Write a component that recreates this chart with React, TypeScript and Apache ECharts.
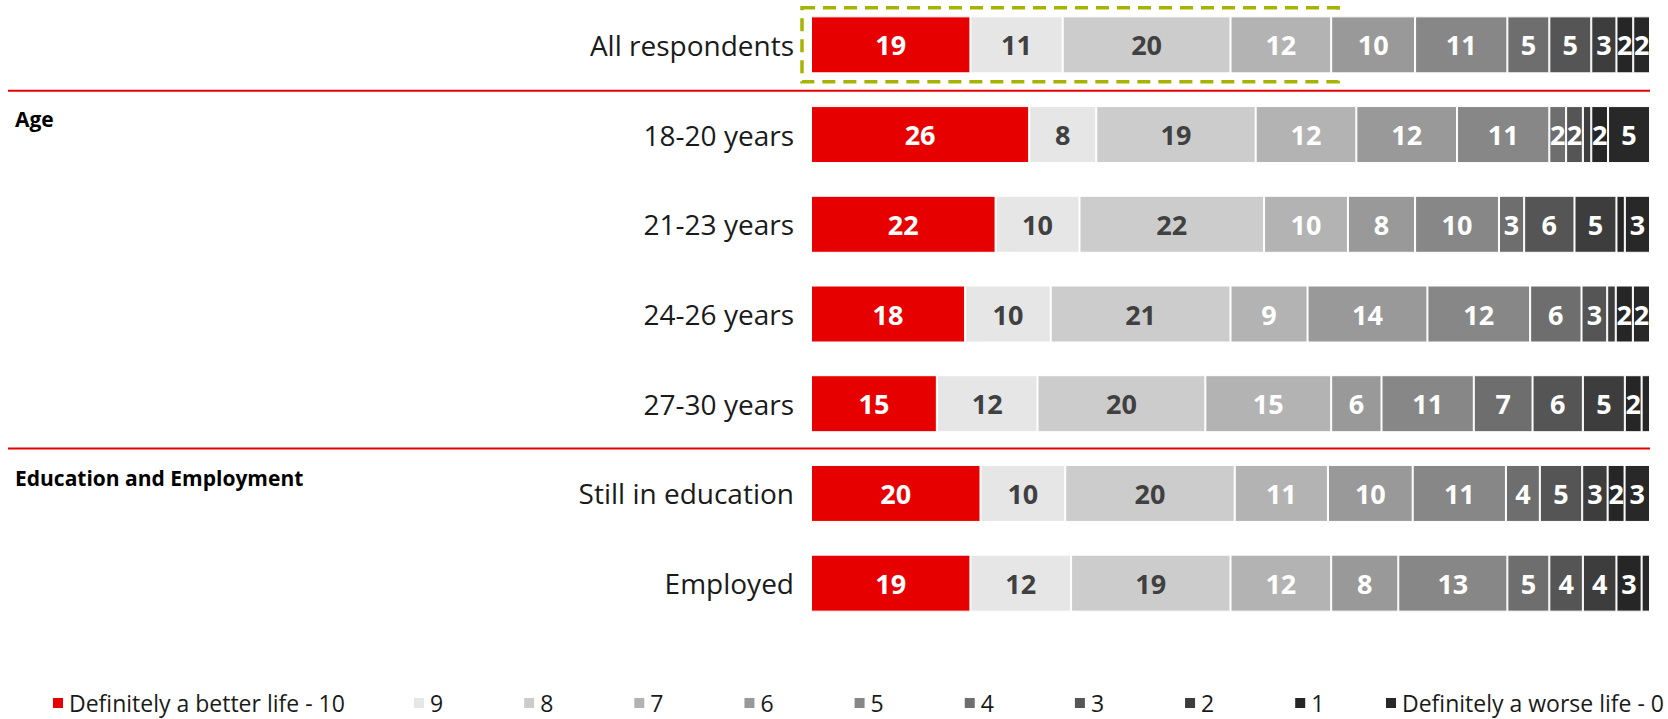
import React, { useEffect, useRef } from "react";
import * as echarts from "echarts";

const categories = [
  "All respondents",
  "18-20 years",
  "21-23 years",
  "24-26 years",
  "27-30 years",
  "Still in education",
  "Employed",
];

const seriesNames = [
  "Definitely a better life - 10",
  "9",
  "8",
  "7",
  "6",
  "5",
  "4",
  "3",
  "2",
  "1",
  "Definitely a worse life - 0",
];

const score10 = [19, 26, 22, 18, 15, 20, 19];
const score9 = [11, 8, 10, 10, 12, 10, 12];
const score8 = [20, 19, 22, 21, 20, 20, 19];
const score7 = [12, 12, 10, 9, 15, 11, 12];
const score6 = [10, 12, 8, 14, 6, 10, 8];
const score5 = [11, 11, 10, 12, 11, 11, 13];
const score4 = [5, 2, 3, 6, 7, 4, 5];
const score3 = [5, 2, 6, 3, 6, 5, 4];
const score2 = [3, 1, 5, 1, 5, 3, 4];
const score1 = [2, 2, 1, 2, 2, 2, 3];
const score0 = [2, 5, 3, 2, 1, 3, 1];

const allScores = [score10, score9, score8, score7, score6, score5, score4, score3, score2, score1, score0];

const colors = [
  "#e60000",
  "#e6e6e6",
  "#cccccc",
  "#b3b3b3",
  "#999999",
  "#878787",
  "#6e6e6e",
  "#555555",
  "#3d3d3d",
  "#262626",
  "#282828",
];

const labelColors = ["#ffffff", "#404040", "#404040", "#ffffff", "#ffffff", "#ffffff", "#ffffff", "#ffffff", "#ffffff", "#ffffff", "#ffffff"];

const FONT = "'Open Sans', 'Noto Sans', sans-serif";

export default function App() {
  const ref = useRef<HTMLDivElement>(null);

  useEffect(() => {
    if (!ref.current) return;
    const chart = echarts.init(ref.current, null, { renderer: "svg" });

    const rowTotals = categories.map((_, i) => allScores.reduce((s, arr) => s + arr[i], 0));

    const series = allScores.map((arr, si) => ({
      name: seriesNames[si],
      type: "bar",
      stack: "total",
      barWidth: 57,
      itemStyle: { color: colors[si], borderColor: "#ffffff", borderWidth: 1 },
      label: {
        position: "inside",
        color: labelColors[si],
        fontFamily: FONT,
        fontWeight: "bold",
        fontSize: 27,
        formatter: (p: any) => String(p.data.raw),
      },
      data: arr.map((v, ci) => ({
        value: (v * 100) / rowTotals[ci],
        raw: v,
        label: { show: v >= 2 },
      })),
    }));

    const legendText = { fontFamily: FONT, fontSize: 23, lineHeight: 26, color: "#1a1a1a" };
    const legendBase = {
      top: 690,
      icon: "rect",
      itemWidth: 12,
      itemHeight: 12,
      itemGap: 79,
      padding: 0,
      textStyle: legendText,
      selectedMode: false,
    };

    chart.setOption({
      animation: false,
      grid: { left: 811, right: 18, top: 0, height: 628, containLabel: false },
      xAxis: {
        type: "value",
        min: 0,
        max: 100,
        show: false,
      },
      yAxis: {
        type: "category",
        inverse: true,
        data: categories,
        axisLine: { show: false },
        axisTick: { show: false },
        axisLabel: { fontFamily: FONT, fontSize: 28, color: "#1a1a1a", margin: 17 },
      },
      legend: [
        { ...legendBase, left: 51, data: [seriesNames[0]] },
        { ...legendBase, left: 412, data: seriesNames.slice(1, 10) },
        { ...legendBase, left: 1384, data: [seriesNames[10]] },
      ],
      series,
    });

    const p0 = chart.convertToPixel({ xAxisIndex: 0, yAxisIndex: 0 }, [0, 0]) as number[];
    const cum62 = score10[0] + score9[0] + score8[0] + score7[0];
    const pEnd = chart.convertToPixel({ xAxisIndex: 0, yAxisIndex: 0 }, [(cum62 * 100) / rowTotals[0], 0]) as number[];
    const pRight = chart.convertToPixel({ xAxisIndex: 0, yAxisIndex: 0 }, [100, 0]) as number[];
    const r1 = chart.convertToPixel({ xAxisIndex: 0, yAxisIndex: 0 }, [0, 1]) as number[];
    const r4 = chart.convertToPixel({ xAxisIndex: 0, yAxisIndex: 0 }, [0, 4]) as number[];
    const r5 = chart.convertToPixel({ xAxisIndex: 0, yAxisIndex: 0 }, [0, 5]) as number[];
    const sep1 = (p0[1] + r1[1]) / 2 + 1;
    const sep2 = (r4[1] + r5[1]) / 2;

    chart.setOption({
      graphic: [
        {
          type: "line",
          shape: { x1: 8, y1: sep1, x2: pRight[0], y2: sep1 },
          style: { stroke: "#e60000", lineWidth: 2 },
        },
        {
          type: "line",
          shape: { x1: 8, y1: sep2, x2: pRight[0], y2: sep2 },
          style: { stroke: "#e60000", lineWidth: 2 },
        },
        {
          type: "rect",
          shape: { x: p0[0] - 9, y: p0[1] - 37, width: pEnd[0] - p0[0] + 16, height: 74 },
          style: { fill: "none", stroke: "#a6b300", lineWidth: 3.5, lineDash: [13, 8] },
        },
        {
          type: "text",
          left: 15,
          top: r1[1] - 26,
          style: { text: "Age", fontFamily: FONT, fontWeight: "bold", fontSize: 21, fill: "#000000" },
        },
        {
          type: "text",
          left: 15,
          top: r5[1] - 26,
          style: { text: "Education and Employment", fontFamily: FONT, fontWeight: "bold", fontSize: 21, fill: "#000000" },
        },
      ],
    });

    return () => chart.dispose();
  }, []);

  return (
    <div
      ref={ref}
      style={{ position: "fixed", left: 0, top: 0, width: 1668, height: 719, background: "#ffffff" }}
    />
  );
}
